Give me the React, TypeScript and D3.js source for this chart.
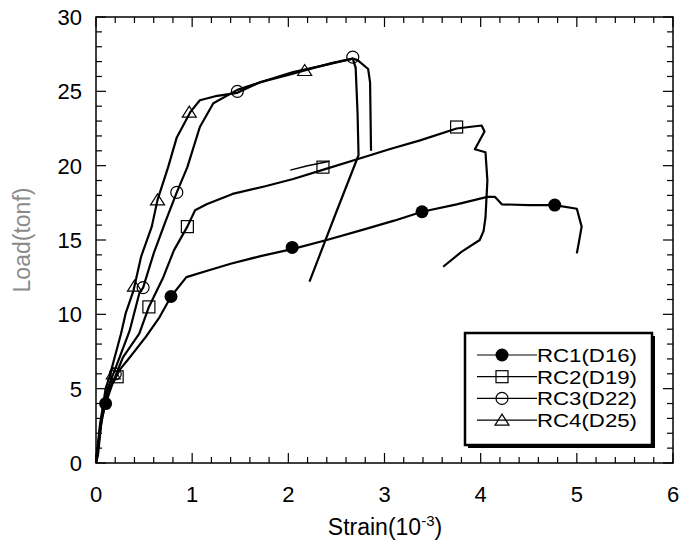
import React from "react";
import * as d3 from "d3";

// ---- data (strain 10^-3, load tonf) ----
const rc1X = [0, 0.02, 0.06, 0.1, 0.17, 0.25, 0.35, 0.52, 0.66, 0.78, 0.94, 1.14, 1.4, 1.7, 2.05, 2.4, 2.78, 3.1, 3.39, 3.75, 4.07, 4.15, 4.22, 4.5, 4.77, 5.0, 5.05, 5.02, 5.0];
const rc1Y = [0, 0.5, 3.0, 4.0, 5.3, 6.3, 7.1, 8.5, 9.8, 11.2, 12.5, 12.9, 13.4, 13.9, 14.4, 15.0, 15.7, 16.3, 16.9, 17.4, 17.9, 17.9, 17.4, 17.35, 17.35, 17.1, 15.9, 14.8, 14.1];

const rc2X = [0, 0.05, 0.12, 0.2, 0.28, 0.45, 0.55, 0.7, 0.81, 0.95, 1.03, 1.15, 1.42, 1.75, 2.05, 2.4, 2.75, 3.05, 3.37, 3.75, 4.01, 4.04, 3.94, 4.05, 4.07, 4.05, 4.03, 3.99, 3.8, 3.61];
const rc2Y = [0, 2.5, 4.8, 5.8, 7.1, 8.7, 10.5, 12.5, 14.3, 15.9, 17.0, 17.4, 18.1, 18.6, 19.1, 19.8, 20.5, 21.1, 21.7, 22.5, 22.7, 22.3, 21.1, 20.9, 19.0, 16.5, 15.6, 15.0, 14.2, 13.2];
const rc2BranchX = [2.02, 2.2, 2.43];
const rc2BranchY = [19.7, 20.0, 20.3];

const rc3X = [0, 0.05, 0.12, 0.21, 0.35, 0.45, 0.49, 0.6, 0.72, 0.84, 0.95, 1.08, 1.22, 1.47, 1.8, 2.05, 2.4, 2.67, 2.7, 2.72, 2.73, 2.5, 2.22];
const rc3Y = [0, 2.8, 5.0, 6.5, 8.9, 11.4, 11.8, 14.1, 16.2, 18.2, 19.9, 22.6, 24.2, 25.1, 25.8, 26.3, 26.8, 27.2, 26.6, 23.5, 20.7, 16.9, 12.2];

const rc4X = [0, 0.04, 0.1, 0.14, 0.26, 0.31, 0.39, 0.47, 0.58, 0.64, 0.75, 0.84, 0.98, 1.08, 1.26, 1.47, 1.7, 2.0, 2.17, 2.45, 2.67, 2.72, 2.83, 2.85, 2.86];
const rc4Y = [0, 2.5, 5.0, 5.8, 8.7, 10.1, 11.6, 13.9, 15.9, 17.7, 19.9, 21.9, 23.6, 24.4, 24.7, 24.9, 25.6, 26.1, 26.4, 26.9, 27.2, 27.1, 26.5, 25.6, 21.0];

const rc1MarkX = [0.1, 0.78, 2.04, 3.39, 4.77];
const rc1MarkY = [4.0, 11.2, 14.5, 16.9, 17.35];
const rc2MarkX = [0.22, 0.55, 0.95, 2.36, 3.75];
const rc2MarkY = [5.8, 10.5, 15.9, 19.9, 22.6];
const rc3MarkX = [0.2, 0.49, 0.84, 1.47, 2.67];
const rc3MarkY = [6.0, 11.8, 18.2, 25.0, 27.3];
const rc4MarkX = [0.18, 0.4, 0.64, 0.97, 2.17];
const rc4MarkY = [6.0, 11.9, 17.7, 23.6, 26.4];

const seriesNames = ["RC1(D16)", "RC2(D19)", "RC3(D22)", "RC4(D25)"];
const xTicks = [0, 1, 2, 3, 4, 5, 6];
const yTicks = [0, 5, 10, 15, 20, 25, 30];

const W = 681, H = 546;
const L = 96, R = 673, T = 17, B = 463;
const FONT = "'Liberation Sans', Arial, Helvetica, sans-serif";

type Kind = "fcircle" | "square" | "circle" | "triangle";

function Marker({ kind, x, y }: { kind: Kind; x: number; y: number }) {
  if (kind === "fcircle") return <circle cx={x} cy={y} r={6.5} fill="#000" />;
  if (kind === "circle") return <circle cx={x} cy={y} r={6} fill="none" stroke="#000" strokeWidth={1.2} />;
  if (kind === "square") return <rect x={x - 6} y={y - 6} width={12} height={12} fill="none" stroke="#000" strokeWidth={1.2} />;
  return <path d={`M${x - 7},${y + 5}L${x + 7},${y + 5}L${x},${y - 6}Z`} fill="none" stroke="#000" strokeWidth={1.2} />;
}

export default function App() {
  const x = d3.scaleLinear().domain([0, 6]).range([L, R]);
  const y = d3.scaleLinear().domain([0, 30]).range([B, T]);
  const line = d3.line<[number, number]>().x((d) => x(d[0])).y((d) => y(d[1]));
  const zip = (a: number[], b: number[]) => a.map((v, i) => [v, b[i]] as [number, number]);

  const curves = [
    zip(rc1X, rc1Y), zip(rc2X, rc2Y), zip(rc2BranchX, rc2BranchY), zip(rc3X, rc3Y), zip(rc4X, rc4Y),
  ];
  const markers: { kind: Kind; xs: number[]; ys: number[] }[] = [
    { kind: "fcircle", xs: rc1MarkX, ys: rc1MarkY },
    { kind: "square", xs: rc2MarkX, ys: rc2MarkY },
    { kind: "circle", xs: rc3MarkX, ys: rc3MarkY },
    { kind: "triangle", xs: rc4MarkX, ys: rc4MarkY },
  ];
  const kinds: Kind[] = ["fcircle", "square", "circle", "triangle"];

  const xMinor = d3.range(0, 6.0001, 0.2);
  const yMinor = d3.range(0, 30.0001, 1);
  const isMajor = (v: number, step: number) => Math.abs(v / step - Math.round(v / step)) < 1e-6;

  const lgX = 465, lgY = 333, lgW = 187, lgH = 112;

  return (
    <svg width={W} height={H} style={{ position: "absolute", left: 0, top: 0, background: "#fff" }} fontFamily={FONT}>
      <rect x={0} y={0} width={W} height={H} fill="#fff" />
      {/* curves */}
      {curves.map((c, i) => (
        <path key={i} d={line(c) || ""} fill="none" stroke="#000" strokeWidth={i === 2 ? 1.5 : 2.2} strokeLinejoin="round" />
      ))}
      {markers.map((m, i) =>
        m.xs.map((v, j) => <Marker key={`${i}-${j}`} kind={m.kind} x={x(v)} y={y(m.ys[j])} />)
      )}
      {/* frame */}
      <rect x={L} y={T} width={R - L} height={B - T} fill="none" stroke="#000" strokeWidth={1.5} />
      {xMinor.map((v, i) => {
        const len = isMajor(v, 1) ? 10 : 6;
        return (
          <g key={`xt${i}`}>
            <line x1={x(v)} x2={x(v)} y1={B} y2={B - len} stroke="#000" strokeWidth={1.2} />
            <line x1={x(v)} x2={x(v)} y1={T} y2={T + len} stroke="#000" strokeWidth={1.2} />
          </g>
        );
      })}
      {yMinor.map((v, i) => {
        const len = isMajor(v, 5) ? 10 : 6;
        return (
          <g key={`yt${i}`}>
            <line x1={L} x2={L + len} y1={y(v)} y2={y(v)} stroke="#000" strokeWidth={1.2} />
            <line x1={R} x2={R - len} y1={y(v)} y2={y(v)} stroke="#000" strokeWidth={1.2} />
          </g>
        );
      })}
      {xTicks.map((v) => (
        <text key={`xl${v}`} x={x(v)} y={502} textAnchor="middle" fontSize={22}>{v}</text>
      ))}
      {yTicks.map((v) => (
        <text key={`yl${v}`} x={82} y={y(v) + 8} textAnchor="end" fontSize={22}>{v}</text>
      ))}
      <text x={385} y={535} textAnchor="middle" fontSize={23}>
        Strain(10<tspan dy={-9} fontSize={15}>-3</tspan><tspan dy={9}>)</tspan>
      </text>
      <text transform="translate(30,240) rotate(-90)" textAnchor="middle" fontSize={23} fill="#8a8a8a">Load(tonf)</text>
      {/* legend */}
      <rect x={lgX + 3} y={lgY + 3} width={lgW} height={lgH} fill="#000" />
      <rect x={lgX} y={lgY} width={lgW} height={lgH} fill="#fff" stroke="#000" strokeWidth={2.5} />
      {seriesNames.map((n, i) => {
        const yy = lgY + 22 + i * 21.7;
        return (
          <g key={n}>
            <line x1={lgX + 12} x2={lgX + 72} y1={yy} y2={yy} stroke="#000" strokeWidth={1.2} />
            <Marker kind={kinds[i]} x={lgX + 37} y={yy} />
            <text x={lgX + 72} y={yy + 7} fontSize={19} textLength={100} lengthAdjust="spacingAndGlyphs">{n}</text>
          </g>
        );
      })}
    </svg>
  );
}
